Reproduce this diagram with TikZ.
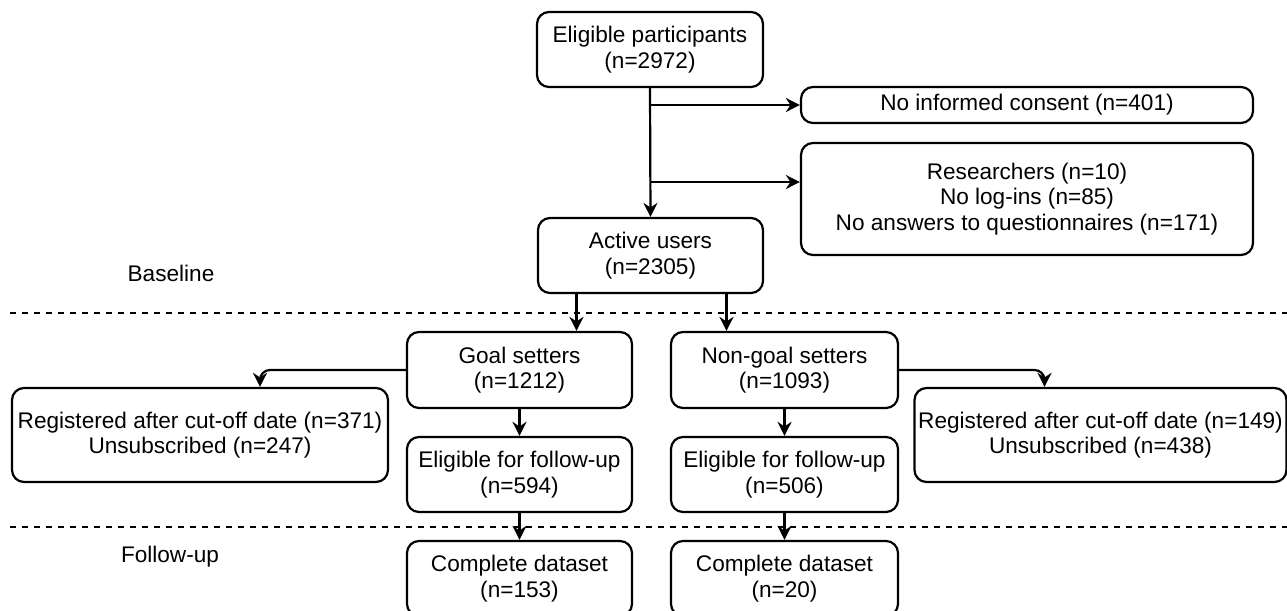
\documentclass[tikz,border=0pt]{standalone}
\usepackage{fontspec}
\setmainfont{Liberation Sans}
\usetikzlibrary{arrows.meta}
\tikzset{
  box/.style={draw,line width=1.1pt,rounded corners=6pt,align=center,inner sep=0pt,
    font=\fontsize{11.3}{12.8}\selectfont},
  arr/.style={line width=1.1pt,-{Stealth[length=7pt,width=7pt]}},
  sep/.style={line width=1pt,dash pattern=on 3pt off 3pt},
  lbl/.style={font=\fontsize{11.3}{12.8}\selectfont}
}
\begin{document}
\begin{tikzpicture}[x=0.5pt,y=-0.5pt]
			\useasboundingbox (0,0) rectangle (1287,611);
			% baseline part
			\node[box,minimum width=113pt,minimum height=37.5pt] (elig) at (650,49.5) {Eligible participants\\(n=2972)};
			\node[box,minimum width=226pt,minimum height=18pt] (consent) at (1027,105) {No informed consent (n=401)};
			\node[box,minimum width=226pt,minimum height=56pt] (excl) at (1027,199) {Researchers (n=10)\\No log-ins (n=85)\\No answers to questionnaires (n=171)};
			\node[box,minimum width=112.5pt,minimum height=37.5pt] (active) at (650.5,255.5) {Active users\\(n=2305)};
			\node[lbl] (base) at (171,273) {Baseline};
			\draw[sep] (10,313) -- (1287,313);
			% groups
			\node[box,minimum width=112.5pt,minimum height=38pt] (goal) at (519.5,370) {Goal setters\\(n=1212)};
			\node[box,minimum width=113.5pt,minimum height=38pt] (nongoal) at (784.5,370) {Non-goal setters\\(n=1093)};
			\node[box,minimum width=188pt,minimum height=47pt] (regL) at (200,435) {Registered after cut-off date (n=371)\\Unsubscribed (n=247)};
			\node[box,minimum width=186pt,minimum height=47pt] (regR) at (1100.5,435) {Registered after cut-off date (n=149)\\Unsubscribed (n=438)};
			\node[box,minimum width=112.5pt,minimum height=37.5pt] (eligL) at (519.5,474.5) {Eligible for follow-up\\(n=594)};
			\node[box,minimum width=113.5pt,minimum height=37.5pt] (eligR) at (784.5,474.5) {Eligible for follow-up\\(n=506)};
			\draw[sep] (10,527) -- (1287,527);
			% follow-up part
			\node[lbl] (fol) at (170,557) {Follow-up};
			\node[box,minimum width=112.5pt,minimum height=37.5pt] (compL) at (519.5,578.5) {Complete dataset\\(n=153)};
			\node[box,minimum width=113.5pt,minimum height=37.5pt] (compR) at (784.5,578.5) {Complete dataset\\(n=20)};
			% connectors
			\draw[arr] (elig.south) -- (active.north);
			\draw[arr] (elig.south |- consent.west) -- (consent.west);
			\draw[arr] (elig.south |- 0,182) -- (excl.west |- 0,182);
			\draw[arr] ([xshift=-37pt]active.south) -- ([xshift=-37pt]active.south |- goal.north);
			\draw[arr] ([xshift=38pt]active.south) -- ([xshift=38pt]active.south |- nongoal.north);
			\draw[arr,rounded corners=5pt] (goal.west) -| ([xshift=30pt]regL.north);
			\draw[arr,rounded corners=5pt] (nongoal.east) -| ([xshift=-28pt]regR.north);
			\draw[arr] (goal.south) -- (eligL.north);
			\draw[arr] (nongoal.south) -- (eligR.north);
			\draw[arr] (eligL.south) -- (compL.north);
			\draw[arr] (eligR.south) -- (compR.north);
		\end{tikzpicture}
\end{document}
